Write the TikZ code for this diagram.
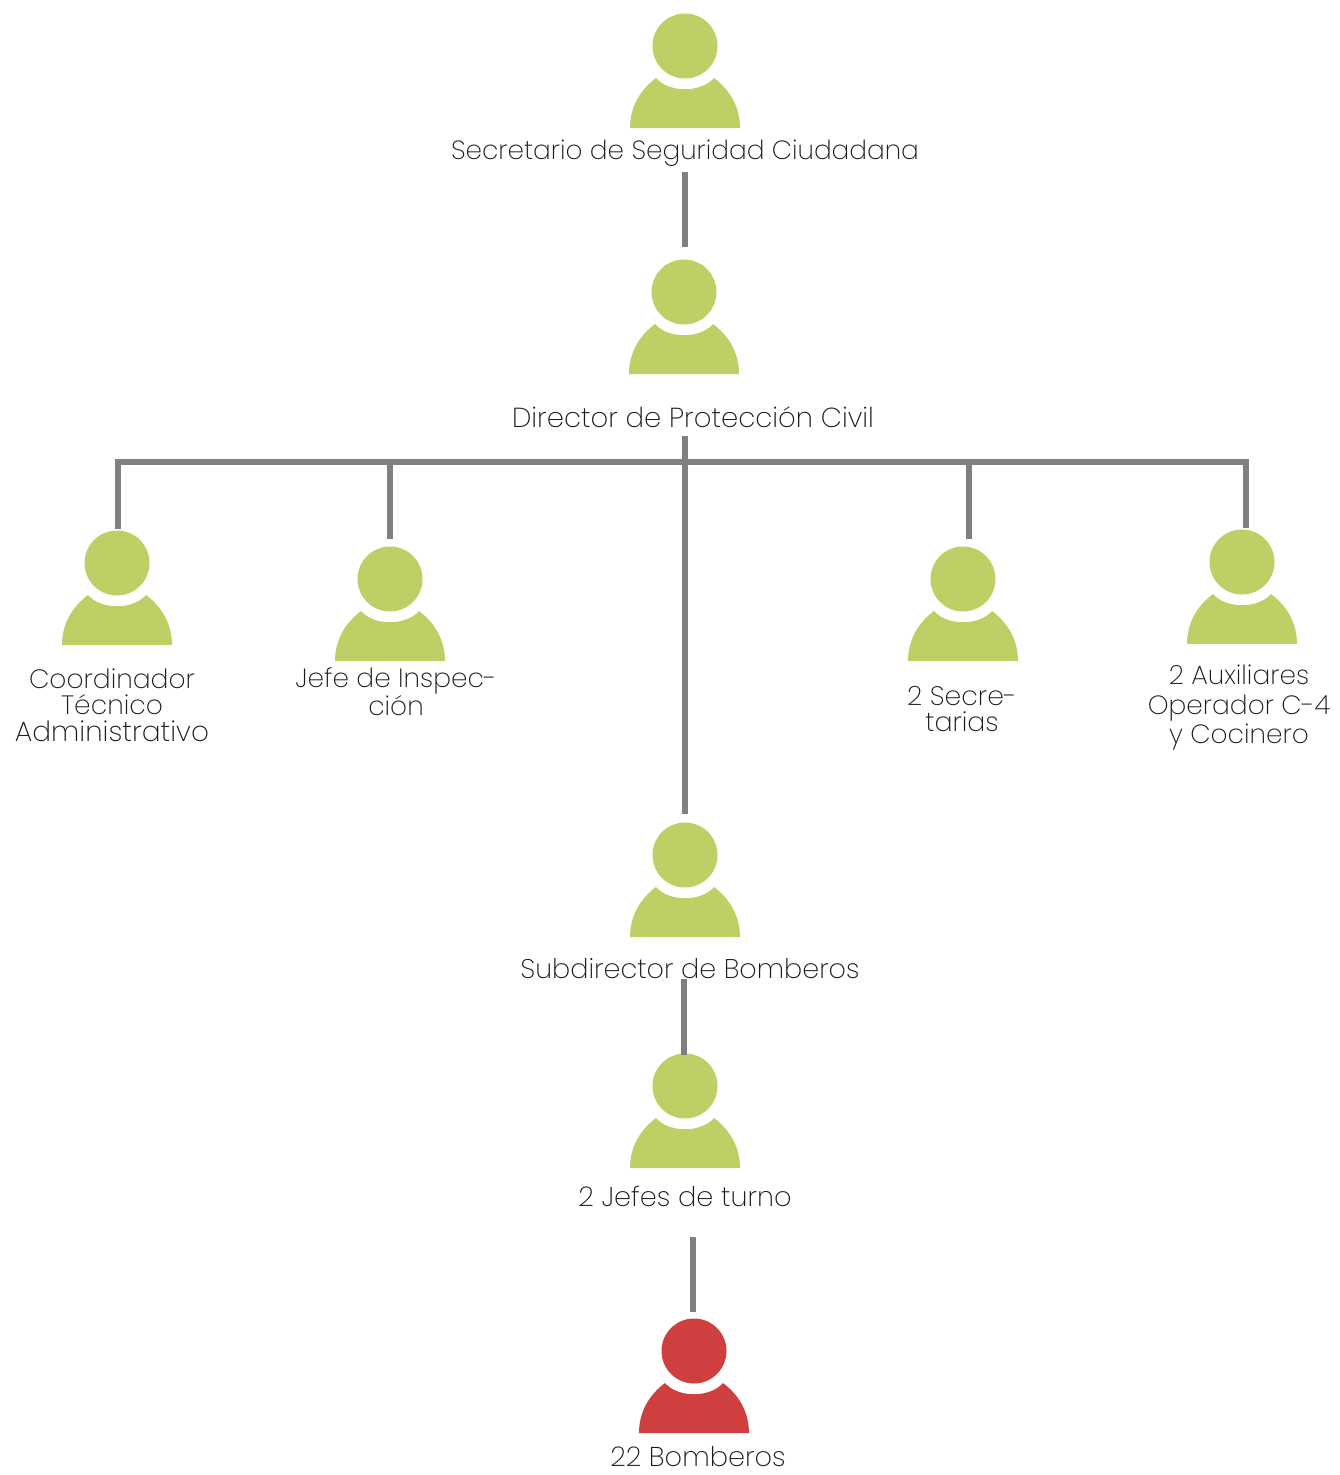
\documentclass[tikz,border=0pt]{standalone}
\usepackage{fontspec}
\setmainfont{Poppins ExtraLight}
\definecolor{leaf}{HTML}{BCD066}
\definecolor{ember}{HTML}{D03F3F}
\definecolor{conn}{HTML}{7F7F7F}
\definecolor{ink}{HTML}{1A1A1A}
\newcommand{\person}[4]{%
  \node[headdot,fill=#4] (#1) at (#2,#3) {};
  \fill[#4] (#2-55,#3+82) .. controls (#2-55,#3+61) and (#2-45,#3+44) .. (#2-29,#3+32)
    .. controls (#2-16,#3+47) and (#2+16,#3+47) .. (#2+29,#3+32)
    .. controls (#2+45,#3+44) and (#2+55,#3+61) .. (#2+55,#3+82) -- cycle;
}
\newcommand{\fs}[2]{\fontsize{#1}{#2}\selectfont}
\tikzset{
  x=1pt,y=-1pt,
  headdot/.style={circle,minimum size=65pt,inner sep=0pt,outer sep=0pt},
  wire/.style={draw=conn,line width=6pt},
  lbl/.style={text=ink,font=\fs{27}{26.5},align=center,inner sep=0pt,anchor=center},
}
\begin{document}
\begin{tikzpicture}
\useasboundingbox (0,0) rectangle (1339,1475);
\person{sec}{685}{46}{leaf}
\person{dir}{684}{292}{leaf}
\person{coord}{117}{563}{leaf}
\person{jefe}{390}{579}{leaf}
\person{secr}{963}{579}{leaf}
\person{aux}{1242}{562}{leaf}
\person{sub}{685}{855}{leaf}
\person{turn}{685}{1086}{leaf}
\person{bomb}{694}{1351}{ember}
\node[lbl,font=\fs{26.3}{26.5}] (tsec) at (685,153) {Secretario de Seguridad Ciudadana};
\node[lbl,font=\fs{27.5}{26.5}] (tdir) at (693,417) {Director de Protección Civil};
\node[lbl,font=\fs{26.5}{26.5}] (tcoord) at (112,705) {Coordinador\\Técnico\\{\fs{27.9}{26.5}Administrativo}};
\node[lbl,font=\fs{26.4}{26.5}] (tjefe) at (396,692) {Jefe de Inspec-\\ción};
\node[lbl,font=\fs{26.7}{26.5}] (tsecr) at (962,709) {2 Secre-\\tarias};
\node[lbl,font=\fs{26.4}{29.5}] (taux) at (1239,708) {2 Auxiliares\\Operador C-4\\y Cocinero};
\node[lbl] (tsub) at (690,969) {Subdirector de Bomberos};
\node[lbl,font=\fs{27.2}{26.5}] (tturn) at (685,1196) {2 Jefes de turno};
\node[lbl,font=\fs{27.2}{26.5}] (tbomb) at (698,1457) {22 Bomberos};
\coordinate (busL) at (115,461.5);
\coordinate (busR) at (1249,461.5);
\coordinate (busC) at (685,461.5);
\coordinate (busJ) at (390,461.5);
\coordinate (busS) at (969,461.5);
\coordinate (busA) at (1246,461.5);
\coordinate (busK) at (118,461.5);
\coordinate (stub) at (685,436);
\draw[wire] (busL) -- (busR);
\draw[wire] (685,172) coordinate (a1) -- ([yshift=13pt]dir.north -| a1);
\draw[wire] (stub) -- (busC);
\draw[wire] (busC) -- ([yshift=9pt]sub.north -| busC);
\draw[wire] (busK) -- ([yshift=2pt]coord.north -| busK);
\draw[wire] (busJ) -- ([yshift=8pt]jefe.north -| busJ);
\draw[wire] (busS) -- ([yshift=8pt]secr.north -| busS);
\draw[wire] (busA) -- ([yshift=2pt]aux.north -| busA);
\draw[wire] (684,979) coordinate (a2) -- ([yshift=-1pt]turn.north -| a2);
\draw[wire] (692.5,1237) coordinate (a3) -- ([yshift=6.5pt]bomb.north -| a3);
\end{tikzpicture}
\end{document}
